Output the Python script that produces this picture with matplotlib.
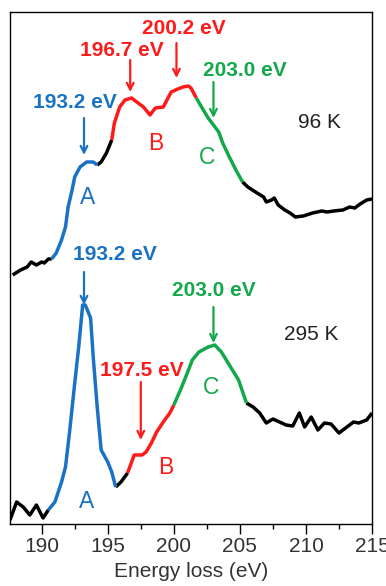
import numpy as np
import matplotlib
matplotlib.use("Agg")
import matplotlib.pyplot as plt
from matplotlib.ticker import MultipleLocator

plt.rcParams['font.family'] = ['Liberation Sans', 'DejaVu Sans']

# 96 K spectrum (offset upward), intensity in arbitrary units
e_96 = [187.8, 188.4, 188.9, 189.2, 189.6, 190.0, 190.2, 190.5, 190.75, 191.1,
        191.5, 191.8, 192.0, 192.3, 192.5, 192.9, 193.4, 193.9, 194.2, 194.5,
        194.9, 195.3, 195.5, 195.9, 196.3, 196.8, 197.2, 197.7, 198.2, 198.6,
        199.2, 199.6, 199.8, 200.3, 200.7, 201.1, 201.3, 201.7, 202.1, 202.6,
        203.0, 203.4, 203.7, 204.2, 204.7, 205.2, 205.6, 206.3, 206.8, 207.0,
        207.4, 207.6, 207.9, 208.4, 208.8, 209.2, 209.8, 210.5, 211.2, 211.6,
        212.1, 212.8, 213.3, 213.7, 214.1, 214.6, 215.0]
i_96 = [249, 254, 257, 262, 259, 262, 261, 265, 265, 271,
        284, 297, 317, 334, 347, 357, 362, 362, 359, 362,
        371, 384, 401, 417, 424, 426, 422, 417, 409, 416,
        417, 427, 432, 435, 437, 438, 436, 426, 417, 406,
        399, 392, 381, 367, 354, 342, 337, 331, 327, 322,
        324, 326, 319, 314, 311, 307, 308, 311, 313, 312,
        313, 314, 317, 316, 320, 324, 325]

# 295 K spectrum
e_295 = [187.6, 188.1, 188.6, 189.1, 189.6, 190.1, 190.5, 191.0, 191.5, 191.8,
         192.1, 192.5, 192.8, 193.1, 193.3, 193.7, 193.9, 194.2, 194.5, 195.0,
         195.3, 195.6, 196.0, 196.5, 197.0, 197.6, 197.9, 198.3, 198.7, 199.2,
         199.7, 200.0, 200.5, 200.9, 201.4, 201.9, 202.6, 203.1, 203.6, 204.2,
         204.9, 205.5, 206.0, 206.5, 207.0, 207.5, 208.0, 208.5, 209.0, 209.5,
         209.9, 210.4, 210.9, 211.4, 211.9, 212.5, 213.1, 213.6, 214.0, 214.6,
         215.0]
i_295 = [4, 22, 17, 9, 19, 6, 14, 22, 42, 57,
         91, 141, 177, 219, 219, 206, 167, 117, 74, 62,
         52, 37, 42, 51, 69, 69, 72, 81, 92, 102,
         111, 119, 134, 147, 164, 172, 177, 179, 172, 159,
         144, 121, 117, 111, 101, 105, 102, 99, 98, 111,
         97, 107, 94, 101, 100, 91, 97, 102, 101, 104,
         111]

BLUE = "#1a72c4"
RED = "#ff1a1a"
GREEN = "#13a84a"

# coloured regions (start, end energy, colour)
regions_96 = [(190.75, 194.2, BLUE), (195.3, 201.7, RED), (201.7, 205.2, GREEN)]
regions_295 = [(190.5, 195.6, BLUE), (196.5, 200.0, RED), (200.0, 205.5, GREEN)]

# peak labels: text, text position, arrow energy, arrow top/bottom, colour
peaks = [
    ("193.2 eV", 192.5, 421, 193.2, 406, 369, BLUE),
    ("196.7 eV", 196.1, 474, 196.7, 464, 432, RED),
    ("200.2 eV", 200.76, 495, 200.2, 481, 446, RED),
    ("203.0 eV", 205.4, 454, 203.0, 442, 406, GREEN),
    ("193.2 eV", 195.54, 269, 193.2, 252, 219, BLUE),
    ("203.0 eV", 203.0, 233, 203.0, 217, 181, GREEN),
    ("197.5 eV", 197.56, 154, 197.5, 142, 84, RED),
]
letters = [("A", 193.5, 327, BLUE), ("B", 198.6, 381, RED), ("C", 202.5, 367, GREEN),
           ("A", 193.4, 22, BLUE), ("B", 199.4, 56, RED), ("C", 202.8, 137, GREEN)]
temps = [("96 K", 211.0, 401), ("295 K", 210.4, 189)]

fig = plt.figure(figsize=(3.86, 5.86), dpi=100)
ax = fig.add_axes([10/386, 62/586, 362/386, 512/586])

for e, y, regs in [(e_96, i_96, regions_96), (e_295, i_295, regions_295)]:
    e = np.array(e)
    y = np.array(y)
    # black between / outside the coloured regions
    edges = [e[0]] + [v for a, b, _ in regs for v in (a, b)] + [e[-1]]
    for k in range(0, len(edges), 2):
        a, b = edges[k], edges[k + 1]
        if b - a > 1e-6:
            m = (e >= a - 1e-6) & (e <= b + 1e-6)
            ax.plot(e[m], y[m], color="black", lw=2.5, solid_joinstyle="round",
                    solid_capstyle="butt")
    for a, b, c in regs:
        m = (e >= a - 1e-6) & (e <= b + 1e-6)
        ax.plot(e[m], y[m], color=c, lw=2.5, solid_joinstyle="round",
                solid_capstyle="butt")

for txt, tx, ty, ae, y0, y1, c in peaks:
    ax.text(tx, ty, txt, color=c, fontsize=15, fontweight="bold",
            ha="center", va="center")
    ax.annotate("", xy=(ae, y1), xytext=(ae, y0),
                arrowprops=dict(arrowstyle="->", color=c, lw=1.6,
                                mutation_scale=12, shrinkA=0, shrinkB=0))

for txt, tx, ty, c in letters:
    ax.text(tx, ty, txt, color=c, fontsize=16.5, ha="center", va="center")

for txt, tx, ty in temps:
    ax.text(tx, ty, txt, color="#222222", fontsize=15, ha="center", va="center")

ax.set_xlim(187.6, 215)
ax.set_ylim(0, 512)
ax.set_yticks([])
ax.xaxis.set_major_locator(MultipleLocator(5))
ax.xaxis.set_minor_locator(MultipleLocator(2.5))
ax.tick_params(axis="x", which="major", direction="out", length=7.5, width=1,
               labelsize=15, labelcolor="#333333", pad=2)
ax.tick_params(axis="x", which="minor", direction="out", length=3.5, width=1)
ax.set_xlabel("Energy loss (eV)", fontsize=15, color="#333333", labelpad=4)
for s in ax.spines.values():
    s.set_linewidth(1.0)

fig.savefig("out.png", dpi=100)
